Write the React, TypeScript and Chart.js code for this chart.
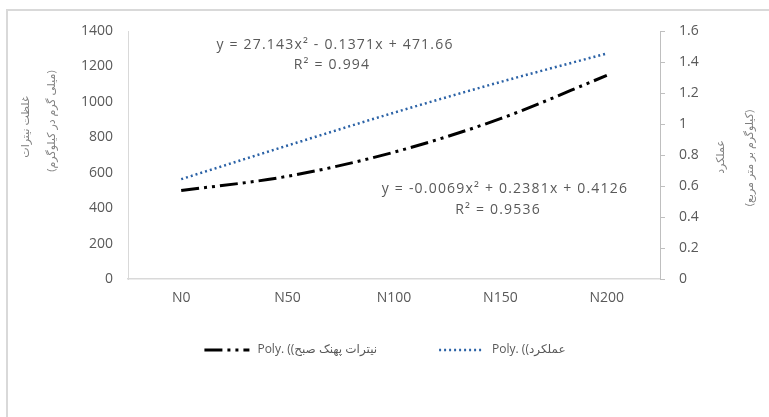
import React, { useEffect, useRef } from 'react';
import { Chart, registerables } from 'chart.js';

Chart.register(...registerables);

// ---- data ----
const categories = ['N0', 'N50', 'N100', 'N150', 'N200'];
const nitrateTrend = [499, 580, 716, 905, 1149];
const yieldTrend = [0.644, 0.861, 1.073, 1.271, 1.455];
const nitrateLabel = 'Poly. ((نیترات پهنک صبح';
const yieldLabel = 'Poly. ((عملکرد';
const leftTitle = ['غلظت نیترات', '(میلی گرم در کیلوگرم)'];
const rightTitle = ['عملکرد', '(کیلوگرم بر متر مربع)'];
const nitrateEquation = ['y = 27.143x² - 0.1371x + 471.66', 'R² = 0.994'];
const yieldEquation = ['y = -0.0069x² + 0.2381x + 0.4126', 'R² = 0.9536'];
const leftMin = 0;
const leftMax = 1400;
const leftStep = 200;
const rightMin = 0;
const rightMax = 1.6;
const rightStep = 0.2;

const FONT = "'Open Sans', 'DejaVu Sans', sans-serif";
const TEXT = '#595959';
const AXIS = '#d9d9d9';

const decorPlugin = {
  id: 'decor',
  afterDraw(chart: any) {
    const ctx = chart.ctx as any;
    ctx.save();
    ctx.fillStyle = TEXT;
    ctx.textAlign = 'center';
    ctx.textBaseline = 'middle';
    ctx.direction = 'ltr';

    // trendline equations
    ctx.font = `14px ${FONT}`;
    ctx.letterSpacing = '1.2px';
    ctx.fillText(nitrateEquation[0], 335, 45);
    ctx.fillText(nitrateEquation[1], 332, 65);
    ctx.fillText(yieldEquation[0], 505, 189);
    ctx.fillText(yieldEquation[1], 498, 210);
    ctx.letterSpacing = '0px';

    // axis titles (rotated)
    ctx.fillStyle = '#7f7f7f';
    ctx.font = `11px ${FONT}`;
    ctx.direction = 'rtl';
    const rot = (t: string, x: number, y: number) => {
      ctx.save();
      ctx.translate(x, y);
      ctx.rotate(-Math.PI / 2);
      ctx.fillText(t, 0, 0);
      ctx.restore();
    };
    rot(leftTitle[0], 26, 127);
    rot(leftTitle[1], 52, 121);
    rot(rightTitle[0], 721, 157);
    rot(rightTitle[1], 750, 158);

    // legend
    ctx.direction = 'ltr';
    ctx.font = `12px ${FONT}`;
    ctx.fillStyle = TEXT;
    ctx.textAlign = 'left';
    const ds = chart.data.datasets;
    const sampleW = 45;
    const sampleGap = 8;
    const itemGap = 62;
    const widths = ds.map((d: any) => ctx.measureText(d.label).width);
    const total = widths.reduce((a: number, w: number) => a + sampleW + sampleGap + w, 0) + itemGap * (ds.length - 1);
    let x = 385 - total / 2;
    const y = 350;
    ds.forEach((d: any, i: number) => {
      ctx.save();
      ctx.strokeStyle = d.borderColor;
      ctx.lineWidth = d.borderWidth;
      ctx.setLineDash(d.borderDash || []);
      ctx.beginPath();
      ctx.moveTo(x, y);
      ctx.lineTo(x + sampleW, y);
      ctx.stroke();
      ctx.restore();
      ctx.fillText(d.label, x + sampleW + sampleGap, y);
      x += sampleW + sampleGap + widths[i] + itemGap;
    });
    ctx.restore();
  },
};

export default function App() {
  const ref = useRef<HTMLCanvasElement | null>(null);

  useEffect(() => {
    if (!ref.current) return;
    const chart = new Chart(ref.current, {
      type: 'line',
      data: {
        labels: categories,
        datasets: [
          {
            label: nitrateLabel,
            data: nitrateTrend,
            yAxisID: 'y',
            borderColor: '#000000',
            borderWidth: 3,
            borderDash: [18, 5, 3, 5, 3, 5],
            pointRadius: 0,
            fill: false,
            cubicInterpolationMode: 'monotone',
          },
          {
            label: yieldLabel,
            data: yieldTrend,
            yAxisID: 'y1',
            borderColor: '#2B62A6',
            borderWidth: 2.5,
            borderDash: [2, 3],
            pointRadius: 0,
            fill: false,
            cubicInterpolationMode: 'monotone',
          },
        ],
      },
      options: {
        responsive: false,
        animation: false,
        maintainAspectRatio: false,
        layout: { padding: { top: 31, left: 0, right: 0, bottom: 0 } },
        plugins: {
          legend: { display: false },
          tooltip: { enabled: false },
        },
        scales: {
          x: {
            type: 'category',
            offset: true,
            grid: { display: false, drawTicks: false },
            border: { display: true, color: AXIS, width: 1.5 },
            ticks: { color: TEXT, font: { family: FONT, size: 14 }, padding: 11, maxRotation: 0 },
            afterFit: (s: any) => { s.height = 138; },
          },
          y: {
            position: 'left',
            min: leftMin,
            max: leftMax,
            grid: { display: false, drawTicks: false },
            border: { display: true, color: AXIS, width: 1 },
            ticks: {
              stepSize: leftStep,
              color: TEXT,
              font: { family: FONT, size: 14 },
              padding: 15,
              callback: (v: any) => String(v),
            },
            afterFit: (s: any) => { s.width = 128; },
          },
          y1: {
            position: 'right',
            min: rightMin,
            max: rightMax,
            grid: { display: true, drawOnChartArea: false, drawTicks: true, tickLength: 5, color: '#bfbfbf' },
            border: { display: true, color: '#bfbfbf', width: 1 },
            ticks: {
              stepSize: rightStep,
              color: TEXT,
              font: { family: FONT, size: 14 },
              padding: 14,
              callback: (v: any) => String(Number(Number(v).toFixed(2))),
            },
            afterFit: (s: any) => { s.width = 109; },
          },
        },
      },
      plugins: [decorPlugin],
    } as any);
    return () => chart.destroy();
  }, []);

  return (
    <div style={{ position: 'fixed', left: 0, top: 0, width: 769, height: 417, overflow: 'hidden', background: '#fff' }}>
      <div
        style={{
          position: 'absolute',
          left: 6,
          top: 9,
          width: 820,
          height: 460,
          borderLeft: '2px solid #d9d9d9',
          borderTop: '2px solid #d9d9d9',
          boxSizing: 'border-box',
        }}
      />
      <canvas ref={ref} width={769} height={417} style={{ position: 'absolute', left: 0, top: 0 }} />
    </div>
  );
}
